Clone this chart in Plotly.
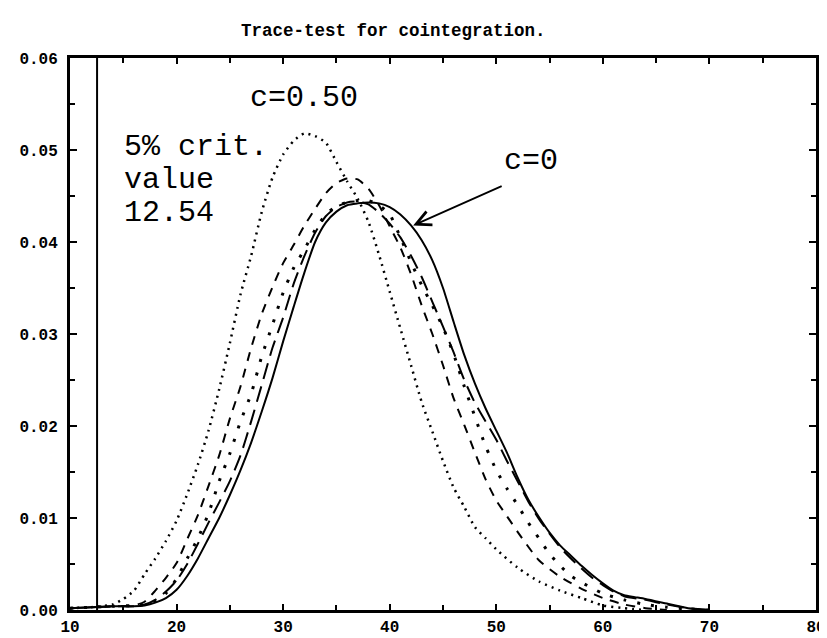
import plotly.graph_objects as go

# ---------------- data ----------------
x_c050 = [10, 12, 14, 15, 16, 17, 18, 19, 20, 21, 22, 23, 24, 25, 26, 27, 28, 29, 30, 31, 32, 33, 34,
          35, 36, 37, 38, 39, 40, 41, 42, 43, 44, 45, 46, 47, 48, 49, 50, 52, 54, 56, 58, 60, 62, 64]
y_c050 = [0.0002, 0.0003, 0.0006, 0.0012, 0.0021, 0.0039, 0.0056, 0.0075, 0.0097, 0.0126, 0.0158,
          0.0195, 0.0240, 0.0290, 0.0343, 0.0385, 0.0433, 0.0470, 0.0495, 0.0510, 0.0518, 0.0515,
          0.0508, 0.0487, 0.0466, 0.0447, 0.0422, 0.0386, 0.0346, 0.0306, 0.0266, 0.0226, 0.0194,
          0.0162, 0.0133, 0.0112, 0.0090, 0.0078, 0.0066, 0.0046, 0.0031, 0.0021, 0.0013, 0.0005,
          0.0002, 0.0000]

x_dash = [10, 14, 16, 17, 18, 19, 20, 21, 22, 23, 24, 25, 26, 27, 28, 29, 30, 31, 32, 33, 34, 35,
          36, 37, 38, 39, 40, 41, 42, 43, 44, 45, 46, 47, 48, 49, 50, 51, 52, 54, 56, 58, 60, 62, 64, 66]
y_dash = [0.0002, 0.0004, 0.0005, 0.0009, 0.0021, 0.0035, 0.0051, 0.0077, 0.0103, 0.0135, 0.0168,
          0.0208, 0.0243, 0.0285, 0.0322, 0.0351, 0.0377, 0.0397, 0.0418, 0.0436, 0.0453, 0.0464,
          0.0469, 0.0468, 0.0458, 0.0440, 0.0417, 0.0394, 0.0365, 0.0331, 0.0300, 0.0266, 0.0230,
          0.0201, 0.0171, 0.0142, 0.0119, 0.0102, 0.0085, 0.0054, 0.0036, 0.0023, 0.0013, 0.0006,
          0.0002, 0.0000]

x_dot2 = [10, 14, 16, 17, 18, 19, 20, 21, 22, 23, 24, 25, 26, 27, 28, 29, 30, 31, 32, 33, 34, 35,
          36, 37, 38, 39, 40, 41, 42, 43, 44, 45, 46, 47, 48, 49, 50, 51, 52, 53, 54, 55, 56, 57, 58,
          60, 62, 64, 66, 68, 70]
y_dot2 = [0.0002, 0.0004, 0.0005, 0.0006, 0.0010, 0.0018, 0.0034, 0.0056, 0.0078, 0.0105, 0.0140,
          0.0170, 0.0205, 0.0235, 0.0276, 0.0310, 0.0345, 0.0372, 0.0392, 0.0413, 0.0430, 0.0439,
          0.0443, 0.0445, 0.0445, 0.0440, 0.0430, 0.0405, 0.0378, 0.0353, 0.0331, 0.0307, 0.0278,
          0.0243, 0.0210, 0.0178, 0.0152, 0.0132, 0.0114, 0.0095, 0.0078, 0.0061, 0.0048, 0.0037,
          0.0030, 0.0018, 0.0011, 0.0006, 0.0003, 0.0001, 0.0000]

x_ldash = [10, 14, 16, 17, 18, 19, 20, 21, 22, 23, 24, 25, 26, 27, 28, 29, 30, 31, 32, 33, 34, 35,
           36, 37, 38, 39, 40, 41, 42, 43, 44, 45, 46, 47, 48, 49, 50, 51, 52, 53, 54, 55, 56, 57,
           58, 59, 60, 61, 62, 64, 66, 68, 70]
y_ldash = [0.0002, 0.0004, 0.0004, 0.0006, 0.0011, 0.0020, 0.0032, 0.0050, 0.0072, 0.0095, 0.0117,
           0.0140, 0.0168, 0.0205, 0.0245, 0.0285, 0.0318, 0.0355, 0.0385, 0.0410, 0.0428, 0.0438,
           0.0443, 0.0444, 0.0441, 0.0432, 0.0420, 0.0405, 0.0385, 0.0362, 0.0335, 0.0308, 0.0280,
           0.0250, 0.0225, 0.0205, 0.0185, 0.0162, 0.0140, 0.0118, 0.0099, 0.0083, 0.0068, 0.0056,
           0.0045, 0.0035, 0.0027, 0.0020, 0.0015, 0.0011, 0.0006, 0.0002, 0.0000]

x_c0 = [10, 12, 14, 16, 17, 18, 19, 20, 21, 22, 23, 24, 25, 26, 27, 28, 29, 30, 31, 32, 33, 34, 35,
        36, 37, 38, 39, 40, 41, 42, 43, 44, 45, 46, 47, 48, 49, 50, 51, 52, 53, 54, 55, 56, 57, 58,
        59, 60, 61, 62, 63, 64, 66, 68, 70]
y_c0 = [0.0002, 0.0003, 0.0004, 0.0004, 0.0005, 0.0008, 0.0013, 0.0022, 0.0037, 0.0056, 0.0078,
        0.0100, 0.0125, 0.0152, 0.0182, 0.0216, 0.0252, 0.0292, 0.0330, 0.0367, 0.0400, 0.0421,
        0.0433, 0.0440, 0.0442, 0.0443, 0.0442, 0.0438, 0.0430, 0.0418, 0.0402, 0.0380, 0.0350,
        0.0313, 0.0277, 0.0246, 0.0219, 0.0195, 0.0171, 0.0144, 0.0120, 0.0101, 0.0084, 0.0070,
        0.0059, 0.0048, 0.0038, 0.0029, 0.0021, 0.0016, 0.0014, 0.0012, 0.0007, 0.0002, 0.0000]

crit_value = 12.54
crit_y = [0.0, 0.06]

x_ticks = [10, 20, 30, 40, 50, 60, 70, 80]
y_ticks = [0.00, 0.01, 0.02, 0.03, 0.04, 0.05, 0.06]
y_ticklabels = ["0.00", "0.01", "0.02", "0.03", "0.04", "0.05", "0.06"]

title_text = "Trace-test for cointegration."
# ------------------------------------------------------------

fig = go.Figure()

def add_curve(x, y, dash, width, name):
    fig.add_trace(go.Scatter(x=x, y=y, mode="lines", name=name,
                             line=dict(color="black", width=width, dash=dash, shape="spline",
                                       smoothing=0.6),
                             showlegend=False, hoverinfo="skip"))

add_curve(x_c050, y_c050, "2px,5px", 2.5, "c=0.50")
add_curve(x_dash, y_dash, "9px,8px", 2, "dash")
add_curve(x_dot2, y_dot2, "3px,11px", 3, "dotdash")
add_curve(x_ldash, y_ldash, "16px,8px", 2, "longdash")
add_curve(x_c0, y_c0, "solid", 2, "c=0")

fig.add_trace(go.Scatter(x=[crit_value, crit_value], y=crit_y, mode="lines",
                         line=dict(color="black", width=2), showlegend=False,
                         hoverinfo="skip"))

label_font = dict(family="Liberation Mono", size=30, color="black")
annotations = [
    dict(x=32.0, y=0.0556, text="c=0.50", showarrow=False, font=label_font,
         xanchor="center", yanchor="middle"),
    dict(x=14.9, y=0.0503, text="5% crit.", showarrow=False, font=label_font,
         xanchor="left", yanchor="middle"),
    dict(x=14.9, y=0.0467, text="value", showarrow=False, font=label_font,
         xanchor="left", yanchor="middle"),
    dict(x=14.9, y=0.0431, text="12.54", showarrow=False, font=label_font,
         xanchor="left", yanchor="middle"),
    dict(x=53.3, y=0.0488, text="c=0", showarrow=False, font=label_font,
         xanchor="center", yanchor="middle"),
    dict(x=42.2, y=0.0418, ax=90, ay=-40, text="", showarrow=True,
         arrowhead=5, arrowsize=1.6, arrowwidth=1.8, arrowcolor="black"),
    dict(x=0.434, y=1.049, xref="paper", yref="paper", text=title_text, showarrow=False,
         font=dict(family="Liberation Mono", size=17.5, color="black", weight="bold"),
         xanchor="center", yanchor="middle"),
]

tick_font = dict(family="Liberation Mono", size=16, color="black", weight="bold")

fig.update_layout(
    width=827, height=638,
    margin=dict(l=62, r=9, t=50, b=33),
    paper_bgcolor="white", plot_bgcolor="white",
    annotations=annotations,
    xaxis=dict(range=[10, 80], tickvals=x_ticks, ticktext=[str(v) for v in x_ticks],
               ticks="inside", ticklen=6, tickwidth=2, tickcolor="black",
               minor=dict(dtick=5, tick0=10, ticks="inside", ticklen=5, tickwidth=2,
                          tickcolor="black"),
               showline=True, linewidth=3, linecolor="black", mirror="allticks",
               showgrid=False, zeroline=False, tickfont=tick_font),
    yaxis=dict(range=[0, 0.06], tickvals=y_ticks, ticktext=y_ticklabels,
               ticks="inside", ticklen=7, tickwidth=2, tickcolor="black",
               minor=dict(dtick=0.005, tick0=0, ticks="inside", ticklen=5, tickwidth=2,
                          tickcolor="black"),
               showline=True, linewidth=3, linecolor="black", mirror="allticks",
               showgrid=False, zeroline=False, tickfont=tick_font, ticklabelstandoff=6),
)

fig.write_html("out.html")
